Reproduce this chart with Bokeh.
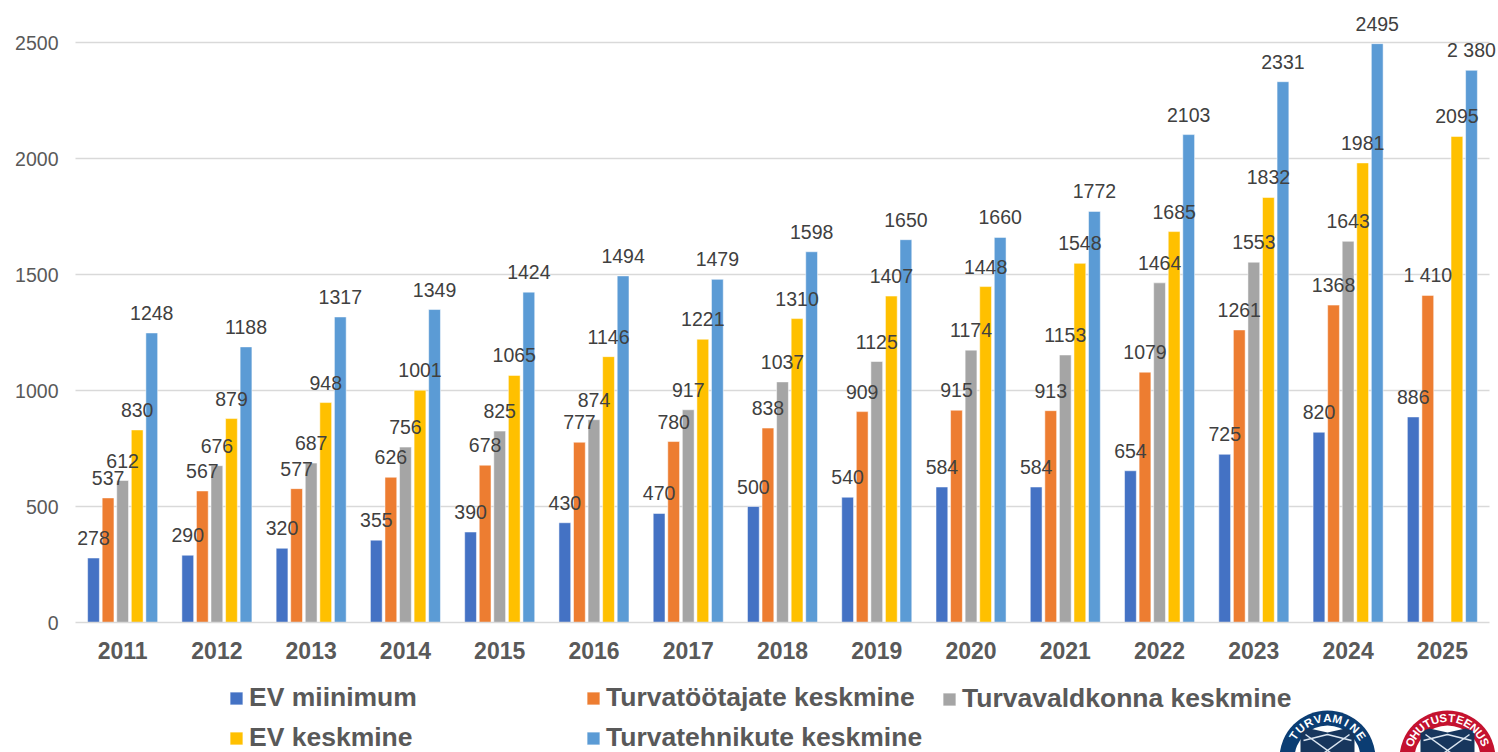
import math
from bokeh.plotting import figure
from bokeh.models import ColumnDataSource, Legend, LegendItem, FixedTicker
from bokeh.core.properties import value
from bokeh.embed import file_html
from bokeh.resources import INLINE

years = [str(y) for y in range(2011, 2026)]
names = ["EV miinimum", "Turvatöötajate keskmine", "Turvavaldkonna keskmine", "EV keskmine", "Turvatehnikute keskmine"]
colors = ["#4472C4", "#ED7D31", "#A5A5A5", "#FFC000", "#5B9BD5"]
ev_min = [278, 290, 320, 355, 390, 430, 470, 500, 540, 584, 584, 654, 725, 820, 886]
guards = [537, 567, 577, 626, 678, 777, 780, 838, 909, 915, 913, 1079, 1261, 1368, 1410]
sector = [612, 676, 687, 756, 825, 874, 917, 1037, 1125, 1174, 1153, 1464, 1553, 1643, None]
ev_avg = [830, 879, 948, 1001, 1065, 1146, 1221, 1310, 1407, 1448, 1548, 1685, 1832, 1981, 2095]
techs = [1248, 1188, 1317, 1349, 1424, 1494, 1479, 1598, 1650, 1660, 1772, 2103, 2331, 2495, 2380]
series = [ev_min, guards, sector, ev_avg, techs]
y_ticks = [0, 500, 1000, 1500, 2000, 2500]

W, H = 1498, 752
L, R, Y0, Y2500 = 75.0, 1489.0, 622.0, 42.0
cat = (R - L) / len(years)
yscale = (Y0 - Y2500) / 2500.0

def dx(px):
    return (px - L) / cat - 0.5

def dy(py):
    return (Y0 - py) / yscale

GREY = "#D9D9D9"
FONT = "Liberation Sans"

p = figure(width=W, height=H, output_backend="svg", toolbar_location=None,
           x_range=(dx(0), dx(W)), y_range=(dy(H), dy(0)),
           min_border=0, outline_line_color=None)
p.grid.visible = False

p.segment(x0=[-0.5] * 5, x1=[len(years) - 0.5] * 5, y0=y_ticks[1:], y1=y_ticks[1:],
          line_color=GREY, line_width=1.5)

pitch, bw = 0.1545, 0.125
renderers = []
for i, vals in enumerate(series):
    xs = [j + (i - 2) * pitch for j, v in enumerate(vals) if v is not None]
    ys = [v for v in vals if v is not None]
    labs = [("%d %03d" % (v // 1000, v % 1000)) if (yr == "2025" and i in (1, 4)) else str(v)
            for v, yr in zip(ys, [y for y, v in zip(years, vals) if v is not None])]
    src = ColumnDataSource(dict(x=xs, top=ys, lab=labs))
    r = p.vbar(x="x", top="top", bottom=0, width=bw, source=src, fill_color=colors[i],
               line_color="#FFFFFF", line_alpha=0.5, line_width=1)
    renderers.append(r)
for i, vals in enumerate(series):
    src = renderers[i].data_source
    p.text(x="x", y="top", text="lab", source=src, text_align="center", text_baseline="middle",
           y_offset=-20, text_font=value(FONT), text_font_size="19.5px", text_color="#404040")

xa = p.xaxis[0]
xa.fixed_location = 0
xa.bounds = (-0.5, len(years) - 0.5)
xa.ticker = FixedTicker(ticks=list(range(len(years))))
xa.major_label_overrides = {i: y for i, y in enumerate(years)}
xa.major_label_text_font = FONT
xa.major_label_text_font_style = "bold"
xa.major_label_text_font_size = "23px"
xa.major_label_text_color = "#595959"
xa.major_label_standoff = 13
xa.axis_line_color = GREY
xa.axis_line_width = 1.5
xa.major_tick_line_color = None
xa.minor_tick_line_color = None

ya = p.yaxis[0]
ya.fixed_location = -0.5
ya.bounds = (0, 2500)
ya.ticker = FixedTicker(ticks=y_ticks)
ya.major_label_text_font = FONT
ya.major_label_text_font_size = "19.5px"
ya.major_label_text_color = "#595959"
ya.major_label_standoff = 11
ya.axis_line_color = None
ya.major_tick_line_color = None
ya.minor_tick_line_color = None

def add_legend(idx, px, py):
    items = [LegendItem(label=names[i], renderers=[renderers[i]]) for i in idx]
    leg = Legend(items=items, location=(px, H - py), orientation="vertical",
                 background_fill_alpha=0, border_line_color=None, padding=0, margin=0,
                 spacing=9, glyph_width=16, glyph_height=16, label_standoff=5,
                 label_text_font=FONT, label_text_font_style="bold",
                 label_text_font_size="26.5px", label_text_color="#595959",
                 label_height=30, click_policy="none")
    p.add_layout(leg, "center")

add_legend([0, 3], 228, 753)
add_legend([1, 4], 585, 753)
add_legend([2], 941, 714)

def logo(cx, cy, ring, text, start, rad_txt):
    xc, yc = dx(cx), dy(cy)
    p.circle(x=[xc], y=[yc], radius=48, radius_units="screen", fill_color=ring, line_color=None)
    p.circle(x=[xc], y=[yc], radius=33, radius_units="screen", fill_color="#FFFFFF", line_color=None)
    sx = [cx - 27, cx - 18, cx, cx + 18, cx + 27, cx + 27, cx - 27]
    sy = [cy - 27, cy - 30, cy - 26, cy - 30, cy - 27, cy + 5, cy + 5]
    p.patch(x=[dx(v) for v in sx], y=[dy(v) for v in sy], fill_color="#17365D", line_color=None)
    p.multi_line(xs=[[dx(cx - 22), dx(cx + 18)], [dx(cx + 22), dx(cx - 18)], [dx(cx - 24), dx(cx), dx(cx + 24)]],
                 ys=[[dy(cy - 24), dy(cy + 5)], [dy(cy - 24), dy(cy + 5)], [dy(cy - 18), dy(cy - 24), dy(cy - 18)]],
                 line_color="#DCE6F1", line_width=1.5)
    n = len(text)
    step = 2 * start / (n - 1)
    for k, ch in enumerate(text):
        a = -start + k * step
        rad = math.radians(a)
        lx = cx + rad_txt * math.sin(rad)
        ly = cy - rad_txt * math.cos(rad)
        p.text(x=[dx(lx)], y=[dy(ly)], text=[ch], angle=-rad, text_align="center",
               text_baseline="middle", text_font=value(FONT), text_font_style="bold",
               text_font_size="11.5px", text_color="#FFFFFF")

logo(1327, 758, "#0B3D73", "TURVAMINE", 56, 40.5)
logo(1447, 758, "#C4122F", "OHUTUSTEENUS", 66, 40.5)

open("out.html", "w").write(file_html(p, INLINE))
